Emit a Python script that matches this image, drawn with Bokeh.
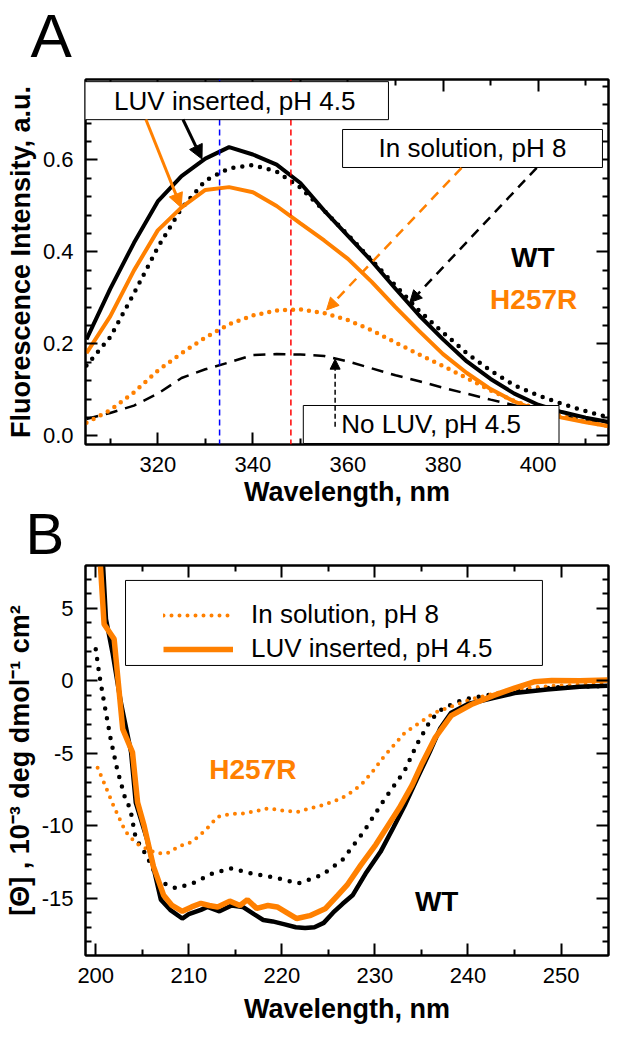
import math
from bokeh.plotting import figure
from bokeh.models import (Range1d, FixedTicker, LinearAxis, Span, Label, Arrow, Title,
                          NormalHead, Legend, LegendItem, BoxAnnotation, PrintfTickFormatter,
                          CustomJSTickFormatter)
from bokeh.layouts import column
from bokeh.embed import file_html
from bokeh.resources import INLINE

FONT = "Liberation Sans"
ORANGE = "#ff8000"

# ---------------- Panel A: fluorescence ----------------
fl_wl = [305, 310, 315, 320, 325, 330, 335, 340, 345, 350, 355, 360,
         365, 370, 375, 380, 385, 390, 395, 400, 405, 410, 415]
wt_luv = [0.21, 0.32, 0.42, 0.51, 0.565, 0.603, 0.628, 0.612, 0.59, 0.55, 0.49, 0.435,
          0.38, 0.32, 0.262, 0.21, 0.162, 0.124, 0.092, 0.068, 0.052, 0.04, 0.03]
wt_sol = [0.153, 0.215, 0.31, 0.41, 0.495, 0.555, 0.582, 0.589, 0.575, 0.54, 0.49, 0.437,
          0.382, 0.327, 0.272, 0.225, 0.18, 0.142, 0.11, 0.088, 0.07, 0.054, 0.04]
wt_noluv = [0.037, 0.05, 0.066, 0.092, 0.126, 0.145, 0.16, 0.176, 0.178, 0.177, 0.174, 0.162,
            0.147, 0.132, 0.119, 0.105, 0.092, 0.079, 0.067, 0.056, 0.045, 0.034, 0.025]
h_luv = [0.18, 0.26, 0.36, 0.447, 0.497, 0.535, 0.541, 0.53, 0.5, 0.462, 0.425, 0.385,
         0.335, 0.28, 0.228, 0.178, 0.137, 0.102, 0.075, 0.055, 0.04, 0.03, 0.021]
h_sol = [0.029, 0.056, 0.095, 0.142, 0.18, 0.214, 0.243, 0.262, 0.273, 0.275, 0.267, 0.252,
         0.23, 0.203, 0.177, 0.152, 0.126, 0.099, 0.076, 0.058, 0.043, 0.031, 0.021]
peak_lines = [333, 348]
a_xticks = [320, 340, 360, 380, 400]
a_yticks = [0.0, 0.2, 0.4, 0.6]

# ---------------- Panel B: CD ----------------
wt_luv_x = [200.5, 200.8, 201.1, 201.8, 202.7, 203.8, 204.3, 205.5, 207, 208, 209.3, 210,
            211.3, 212, 213.3, 214.6, 215.8, 217, 218, 219, 220.3, 221.5, 222.5, 223.5,
            224.5, 225.5, 226.5, 227.6, 229, 230.6, 232, 233.2, 234.5, 235.9, 237, 238.2,
            240, 242.7, 245, 248.5, 252, 255]
wt_luv_y = [9.0, 7.8, 4.25, 1.95, -1.5, -4.94, -8.4, -10.9, -15.1, -15.8, -16.4, -16.1,
            -15.8, -15.6, -15.9, -15.5, -15.6, -16.1, -16.5, -16.6, -16.8, -17.0, -17.06, -17.0,
            -16.7, -16.0, -15.4, -14.8, -13.3, -11.8, -10.1, -8.6, -6.8, -4.9, -3.3, -2.2,
            -1.6, -1.2, -0.85, -0.6, -0.42, -0.35]
h_luv_x = [200.4, 200.9, 201.98, 202.9, 203.95, 204.5, 205.2, 206.2, 207.3, 208.2, 209.3,
           210.3, 211.3, 212.2, 213.1, 214.4, 215.5, 216.3, 217.3, 218.5, 219.5, 220.3, 221.6,
           223, 224.7, 226, 227, 228.5, 230.1, 232.6, 234, 235, 236.5, 238.2, 240.5, 242.7,
           245, 247.1, 249, 252, 255]
h_luv_y = [9.0, 3.9, 2.87, -3.34, -4.94, -8.4, -10.0, -12.8, -14.8, -15.5, -15.9,
           -15.6, -15.35, -15.5, -15.6, -15.2, -15.5, -15.1, -15.7, -15.5, -15.6, -15.9, -16.4,
           -16.2, -15.7, -14.8, -14.1, -12.7, -11.3, -8.8, -7.2, -5.8, -3.9, -2.41, -1.6, -1.03,
           -0.5, -0.07, 0.02, 0.0, 0.05]
wt_sol_x = [200, 200.4, 200.9, 201.6, 202.3, 203.2, 203.7, 204.3, 205.5, 206.8, 208.6, 210.4,
            212.6, 214.6, 216.7, 219.4, 221.8, 224.3, 226.5, 228.8, 231, 233.2, 234.5, 236,
            237.3, 239.5, 241.8, 245, 249.4, 255]
wt_sol_y = [2.18, 0.35, -1.5, -4.0, -6.1, -8.2, -8.8, -10.87, -12.1, -13.85, -14.3, -13.97,
            -13.28, -12.94, -13.28, -13.6, -13.97, -13.4, -12.36, -10.41, -8.2, -6.2, -4.4, -2.7,
            -1.9, -1.3, -1.03, -0.7, -0.46, -0.35]
h_sol_x = [200.2, 200.8, 201.9, 203.2, 204.3, 205.5, 206.5, 207.7, 209, 210.4, 211.8, 213.1,
           214.4, 215.8, 217.2, 218.5, 220, 221.8, 223, 224.3, 225.7, 227, 228.5, 229.7, 231,
           233.2, 236.4, 240.4, 244.9, 249.4, 255]
h_sol_y = [-6.0, -6.9, -8.6, -10.4, -11.2, -11.6, -11.9, -11.9, -11.4, -11.1, -10.3, -9.38,
           -9.2, -9.15, -9.0, -8.8, -8.95, -9.04, -8.8, -8.6, -8.3, -7.9, -7.2, -6.3, -5.2,
           -3.6, -2.2, -1.26, -0.57, -0.34, -0.2]
b_xticks = [200, 210, 220, 230, 240, 250]
b_yticks = [-15, -10, -5, 0, 5]


def style_axis(ax, ticks, minor, fmt, show_labels=True, standoff=14):
    ax.ticker = FixedTicker(ticks=ticks, minor_ticks=minor)
    ax.axis_line_width = 2
    ax.axis_line_color = "black"
    ax.major_tick_line_width = 2
    ax.minor_tick_line_width = 2
    ax.major_tick_line_color = "black"
    ax.minor_tick_line_color = "black"
    ax.major_tick_in = 12
    ax.major_tick_out = 0
    ax.minor_tick_in = 6
    ax.minor_tick_out = 0
    ax.major_label_text_font = FONT
    ax.major_label_text_color = "black"
    if show_labels:
        ax.formatter = PrintfTickFormatter(format=fmt)
        ax.major_label_text_font_size = "22px"
        ax.major_label_standoff = standoff
    else:
        ax.formatter = CustomJSTickFormatter(code="return ''")
        ax.major_label_text_font_size = "1px"
        ax.major_label_standoff = 0


def base_fig(w, h, xr, yr, bl, br, bt, bb):
    p = figure(width=w, height=h, x_range=Range1d(*xr), y_range=Range1d(*yr),
               output_backend="svg", toolbar_location=None, title=None,
               min_border_left=bl, min_border_right=br, min_border_top=bt, min_border_bottom=bb)
    p.xgrid.visible = False
    p.ygrid.visible = False
    p.outline_line_color = "black"
    p.outline_line_width = 2
    p.background_fill_color = "white"
    return p


def add_frame_axes(p, xt, xminor, yt, yminor, xfmt, yfmt, xstand, ystand, ytitle):
    bottom = p.below[0]
    left = p.left[0]
    style_axis(bottom, xt, xminor, xfmt, True, xstand)
    style_axis(left, yt, yminor, yfmt, True, ystand)
    top = LinearAxis()
    style_axis(top, xt, xminor, xfmt, False)
    right = LinearAxis()
    style_axis(right, yt, yminor, yfmt, False)
    p.add_layout(top, "above")
    p.add_layout(right, "right")
    for ax, txt in ((bottom, "Wavelength, nm"), (left, ytitle)):
        ax.axis_label = txt
        ax.axis_label_text_font = FONT
        ax.axis_label_text_font_size = "27px"
        ax.axis_label_text_font_style = "bold"
        ax.axis_label_text_color = "black"
    return bottom, left


def panel_title(p, text, size, offset, standoff):
    p.add_layout(Title(text=text, align="left", offset=offset, standoff=standoff,
                       text_font=FONT, text_font_size=size, text_font_style="normal",
                       text_color="black"), "above")


# ================= Figure A =================
pa = base_fig(628, 534, (304.8, 414.8), (-0.0185, 0.775), 80, 3, 93, 76)
pa.border_fill_color = "white"
pa.margin = (-14, 0, 0, 0)
xa, ya = add_frame_axes(pa, a_xticks, [310, 330, 350, 370, 390, 410],
                        a_yticks, [0.04, 0.08, 0.12, 0.16, 0.24, 0.28, 0.32, 0.36, 0.44, 0.48,
                                   0.52, 0.56, 0.64, 0.68, 0.72, 0.76],
                        "%d", "%.1f", 12, 12, "Fluorescence Intensity, a.u.")
xa.axis_label_standoff = 2
ya.axis_label_standoff = 4
panel_title(pa, "A", "62px", -55, 20)

pa.line(fl_wl, wt_noluv, line_color="black", line_width=2.5, line_dash="12 8")
pa.line(fl_wl, h_sol, line_color=ORANGE, line_width=4.5, line_dash="0 8", line_cap="round")
pa.line(fl_wl, wt_sol, line_color="black", line_width=4.5, line_dash="0 9", line_cap="round")
pa.line(fl_wl, wt_luv, line_color="black", line_width=4)
pa.line(fl_wl, h_luv, line_color=ORANGE, line_width=4)

pa.add_layout(Span(location=peak_lines[0], dimension="height", line_color="blue",
                   line_width=1.5, line_dash="6 4"))
pa.add_layout(Span(location=peak_lines[1], dimension="height", line_color="red",
                   line_width=1.5, line_dash="6 4"))


def box_label(p, x, y, text, padx, pady):
    p.add_layout(Label(x=x, y=y, text=text, text_align="center", text_baseline="middle",
                       text_font=FONT, text_font_size="26px", text_color="black",
                       background_fill_color="white", background_fill_alpha=1.0,
                       border_line_color="black", border_line_width=1,
                       padding=dict(left=padx, right=padx, top=pady, bottom=pady)))


box_label(pa, 336.2, 0.729, "LUV inserted, pH 4.5", 33, 4)
box_label(pa, 386.2, 0.625, "In solution, pH 8", 36, 4)
box_label(pa, 377.5, 0.025, "No LUV, pH 4.5", 38, 4)

pa.add_layout(Arrow(end=NormalHead(size=14, fill_color="black", line_color="black"),
                    x_start=325.3, y_start=0.688, x_end=329.3, y_end=0.602,
                    line_color="black", line_width=3))
pa.add_layout(Arrow(end=NormalHead(size=14, fill_color=ORANGE, line_color=ORANGE),
                    x_start=317.5, y_start=0.688, x_end=324.9, y_end=0.497,
                    line_color=ORANGE, line_width=3))
pa.add_layout(Arrow(end=NormalHead(size=12, fill_color=ORANGE, line_color=ORANGE),
                    x_start=383.9, y_start=0.583, x_end=355.5, y_end=0.274,
                    line_color=ORANGE, line_width=2.5, line_dash="10 7"))
pa.add_layout(Arrow(end=NormalHead(size=12, fill_color="black", line_color="black"),
                    x_start=399.7, y_start=0.583, x_end=373.0, y_end=0.29,
                    line_color="black", line_width=2.5, line_dash="10 7"))
pa.add_layout(Arrow(end=NormalHead(size=10, fill_color="black", line_color="black"),
                    x_start=357.3, y_start=0.02, x_end=357.3, y_end=0.167,
                    line_color="black", line_width=1.5, line_dash="5 3"))

pa.add_layout(Label(x=394.3, y=0.355, text="WT", text_font=FONT, text_font_size="28px",
                    text_font_style="bold", text_color="black"))
pa.add_layout(Label(x=389.9, y=0.264, text="H257R", text_font=FONT, text_font_size="28px",
                    text_font_style="bold", text_color=ORANGE))

# ================= Figure B =================
pb = base_fig(628, 535, (198.9, 255.1), (-18.95, 7.95), 85, 20, 70, 75)
pb.border_fill_alpha = 0.0
pb.margin = (-25, 0, 0, 0)
xb, yb = add_frame_axes(pb, b_xticks, [205, 215, 225, 235, 245],
                        b_yticks, [v for v in range(-18, 8) if v % 5 != 0],
                        "%d", "%d", 12, 12,
                        "[\u0398] , 10\u207b\u00b3 deg dmol\u207b\u00b9 cm\u00b2")
xb.axis_label_standoff = 8
yb.axis_label_standoff = 4
panel_title(pb, "B", "58px", -60, 0)

r_wt_sol = pb.line(wt_sol_x, wt_sol_y, line_color="black", line_width=4.5, line_dash="0 10",
                   line_cap="round")
r_h_sol = pb.line(h_sol_x, h_sol_y, line_color=ORANGE, line_width=4, line_dash="0 8",
                  line_cap="round")
r_wt_luv = pb.line(wt_luv_x, wt_luv_y, line_color="black", line_width=4.5)
r_h_luv = pb.line(h_luv_x, h_luv_y, line_color=ORANGE, line_width=5.5)

pb.add_layout(BoxAnnotation(left=203.2, right=248.0, top=6.92, bottom=1.055,
                            fill_color="white", fill_alpha=1.0, line_color="black",
                            line_width=1, line_alpha=1.0))
leg = Legend(items=[LegendItem(label="In solution, pH 8", renderers=[r_h_sol]),
                    LegendItem(label="LUV inserted, pH 4.5", renderers=[r_h_luv])],
             location=(78, 291), background_fill_alpha=0, border_line_color=None,
             label_text_font=FONT, label_text_font_size="26px", label_text_color="black",
             glyph_width=70, glyph_height=30, label_height=30, spacing=3, padding=10,
             label_standoff=18, margin=0)
pb.add_layout(leg, "center")

pb.add_layout(Label(x=212.2, y=-7.22, text="H257R", text_font=FONT, text_font_size="28px",
                    text_font_style="bold", text_color=ORANGE))
pb.add_layout(Label(x=234.3, y=-16.3, text="WT", text_font=FONT, text_font_size="28px",
                    text_font_style="bold", text_color="black"))

layout = column(pa, pb)
open("out.html", "w").write(file_html(layout, INLINE))
